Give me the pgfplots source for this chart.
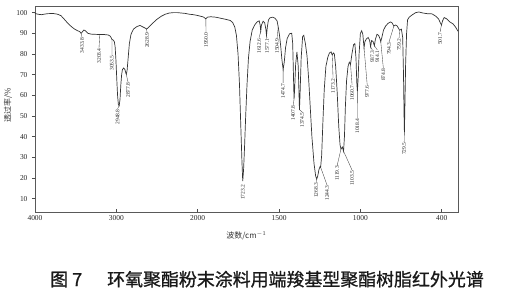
\documentclass[border=0pt]{standalone}
\usepackage{fontspec}
\setmainfont{Liberation Serif}
\newfontfamily\cjk{Noto Sans CJK SC}
\newfontfamily\cjkcap{Noto Sans CJK SC}[FakeBold=0.9]
\usepackage{pgfplots}
\pgfplotsset{compat=1.18}
\pgfplotstableread{
w T
4000 99.6
3960 99.2
3920 99.0
3880 99.3
3840 99.5
3780 99.6
3720 99.2
3680 98.5
3640 96.8
3600 95.0
3560 93.5
3520 92.2
3480 91.3
3450 90.8
3433.8 90.0
3420 90.6
3400 91.6
3380 91.2
3350 90.0
3310 89.6
3260 89.5
3203.4 89.4
3150 89.4
3100 89.2
3075 88.6
3060 87.6
3053.5 87.0
3040 86.8
3025 86.0
3015 83.5
3005 77
2995 68
2985 60
2975 55.5
2965 55
2955 58
2945 65
2935 70
2925 72.5
2910 73.2
2895 72.5
2885 71
2877.8 70.2
2868 72
2855 78
2840 85
2820 89.5
2790 92
2750 93.2
2710 93.8
2670 93
2640 92.4
2628.9 92
2615 92.5
2590 93.5
2550 95
2500 96.8
2450 98.2
2400 99.2
2350 99.8
2300 100
2250 100
2200 99.8
2150 99.6
2100 99.2
2050 99
2000 98.6
1980 98.2
1965 97.9
1950 97.0
1940 97.8
1920 98.0
1890 97.8
1860 97.3
1830 96.8
1800 96.2
1785 95.2
1772 93
1762 89
1752 80
1743 65
1735 45
1728 28
1723.2 18.5
1718 24
1712 35
1705 50
1697 65
1688 78
1678 86
1665 91.5
1650 94
1635 95.5
1622 96
1616 94
1612.6 91
1608 94
1598 95.8
1588 95
1581 92
1577.1 89
1572 93
1565 96.5
1555 97.5
1540 97.8
1525 97.3
1512 96
1504.9 93
1497 89
1490 84
1482 77
1474.7 72.5
1468 76
1460 83
1450 87.5
1435 89.8
1422 90
1416 85
1410 65
1407.8 58
1404 63
1398 75
1390 81
1382 74
1376 57
1374.5 53
1371 60
1364 78
1355 88.5
1348 89
1338 85
1328 79
1318 68
1308 54
1298 40
1285 27
1275 21
1268.3 19.5
1262 21
1255 24
1248 25.5
1244.3 25.2
1238 31
1230 48
1222 63
1212 74
1200 78.5
1190 80.5
1180 81
1173.2 79.5
1166 80.5
1160 80
1152 74
1143 62
1133 45
1125 36
1119.3 34
1111 35
1103.5 33
1098 40
1092 55
1085 67
1076 74
1068 76
1060.7 75
1052 80
1042 84.5
1034 85
1027 78
1022 66
1018.4 62
1014 68
1008 80
1000 90
992 91.2
985 89.5
977.6 83
972 86
964 87.2
952 88
943 86.5
937.3 83.5
931 86.5
922 86
914.1 84
908 87
898 89.5
888 89
880 87.5
874.8 86
868 88
858 91.5
845 93.5
830 94.8
815 95.5
805 95
794.3 93.5
785 94
775 93.6
765 92.4
759.2 91.5
748 92
740 88
735 70
731.5 50
729.5 42
727 52
722 75
716 90
710 96.5
700 97.8
680 99
660 100
640 100.3
615 99.8
590 99.5
560 99.4
535 98.2
520 97
508 95
501.7 94
495 96
485 97.6
470 97
450 95.5
430 94.5
415 93
400 91
}\spectrum
\begin{document}
\begin{tikzpicture}[x=1bp,y=1bp,
  lab/.style={rotate=90, anchor=east, inner sep=0.4pt, font=\fontsize{5.5}{6}\selectfont, text=black!85},
  leader/.style={black!75, line width=0.35pt}]
\begin{axis}[
  at={(0,0)}, anchor=south west,
  scale only axis, width=423bp, height=206bp,
  x coord trafo/.code={\pgfmathparse{(#1>=2000) ? (4000-#1) : (6000-2*#1)}},
  xmin=4000, xmax=400,
  ymin=3.57, ymax=103.2,
  clip=false,
  axis line style={black!65, line width=0.6pt},
  xtick={4000,3000,2000,1500,1000,500},
  xticklabels={4000,3000,2000,1500,1000,400},
  ytick={10,20,30,40,50,60,70,80,90,100},
  xtick pos=bottom, ytick pos=left,
  xtick align=inside, ytick align=outside,
  major tick length=3bp,
  tick style={black!70, line width=0.5pt},
  ticklabel style={font=\fontsize{7.5}{8}\selectfont, text=black!85},
  yticklabel style={xshift=-1bp},
  /pgf/number format/assume math mode=true,
]
\addplot[black!80, line width=0.7pt, mark=none] table[x=w, y=T] {\spectrum};

\draw[leader] (axis cs:3433.8,90) -- (axis cs:3422,88) node[lab]{3433.8};
\draw[leader] (axis cs:3203.4,89.4) -- (axis cs:3213,83) node[lab]{3203.4};
\draw[leader] (axis cs:3053.5,87) -- (axis cs:3054,79.5) node[lab]{3053.5};
\draw[leader] (axis cs:2965,55) -- (axis cs:2985,53.5) node[lab]{2948.8};
\draw[leader] (axis cs:2877.8,70.2) -- (axis cs:2857,66.5) node[lab]{2877.8};
\draw[leader] (axis cs:2628.9,92) -- (axis cs:2623,90.5) node[lab]{2628.9};
\draw[leader] (axis cs:1950,97) -- (axis cs:1949,90.7) node[lab]{1950.0};
\node[lab] at (axis cs:1723.2,17) {1723.2};
\draw[leader] (axis cs:1612.6,91) -- (axis cs:1623,87.8) node[lab]{1612.6};
\draw[leader] (axis cs:1577.1,89) -- (axis cs:1574,87.8) node[lab]{1577.1};
\draw[leader] (axis cs:1504.9,93) -- (axis cs:1512,87.8) node[lab]{1504.9};
\draw[leader] (axis cs:1474.7,72.5) -- (axis cs:1475,66) node[lab]{1474.7};
\draw[leader] (axis cs:1407.8,58) -- (axis cs:1413,55.3) node[lab]{1407.8};
\draw[leader] (axis cs:1374.5,53) -- (axis cs:1358,52) node[lab]{1374.5};
\draw[leader] (axis cs:1268.3,19.5) -- (axis cs:1272,18) node[lab]{1268.3};
\draw[leader] (axis cs:1244.3,25.2) -- (axis cs:1205,16.6) node[lab]{1244.3};
\draw[leader] (axis cs:1173.2,79.5) -- (axis cs:1168,68.4) node[lab]{1173.2};
\draw[leader] (axis cs:1119.3,34) -- (axis cs:1143,26) node[lab]{1119.3};
\draw[leader] (axis cs:1103.5,33) -- (axis cs:1051,23.8) node[lab]{1103.5};
\draw[leader] (axis cs:1060.7,75) -- (axis cs:1051,65) node[lab]{1060.7};
\draw[leader] (axis cs:1018.4,62) -- (axis cs:1018,49) node[lab]{1018.4};
\draw[leader] (axis cs:977.6,83) -- (axis cs:958,65) node[lab]{977.6};
\draw[leader] (axis cs:937.3,83.5) -- (axis cs:927,82) node[lab]{937.3};
\draw[leader] (axis cs:914.1,84) -- (axis cs:896,82) node[lab]{914.1};
\draw[leader] (axis cs:874.8,86) -- (axis cs:859,73.2) node[lab]{874.8};
\draw[leader] (axis cs:794.3,93.5) -- (axis cs:824,85.8) node[lab]{794.3};
\draw[leader] (axis cs:759.2,91.5) -- (axis cs:762,87.8) node[lab]{759.2};
\draw[leader] (axis cs:729.5,42) -- (axis cs:731,37.5) node[lab]{729.5};
\draw[leader] (axis cs:501.7,94) -- (axis cs:510,90.7) node[lab]{501.7};
\end{axis}
\node[font=\cjk\fontsize{8}{9}\selectfont, text=black!80] at (211.5,-24) {波数/cm$^{-1}$};
\node[rotate=90, font=\cjk\fontsize{8}{9}\selectfont, text=black!80] at (-27,107) {透过率/\%};
\node[anchor=base west, inner sep=0pt, font=\cjkcap\fontsize{18}{19}\selectfont, text=black!90] at (15,-74) {图};
\node[anchor=base west, inner sep=0pt, font=\cjkcap\fontsize{18}{19}\selectfont, text=black!90] at (37,-74) {7};
\node[anchor=base west, inner sep=0pt, font=\cjkcap\fontsize{18}{19}\selectfont, text=black!90] at (72,-74) {环氧聚酯粉末涂料用端羧基型聚酯树脂红外光谱};
\pgfresetboundingbox
\path[use as bounding box] (-35,-91) rectangle (476,212);
\end{tikzpicture}
\end{document}
